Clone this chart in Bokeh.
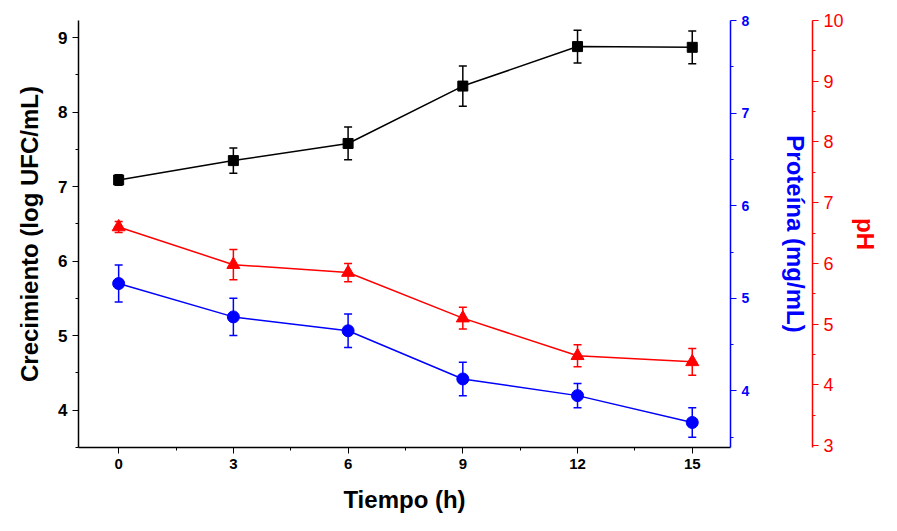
from bokeh.plotting import figure
from bokeh.models import Range1d, LinearAxis, Whisker, ColumnDataSource, FixedTicker, TeeHead
from bokeh.embed import file_html
from bokeh.resources import INLINE

tiempo = [0, 3, 6, 9, 12, 15]
crecimiento = [7.09, 7.35, 7.58, 8.35, 8.88, 8.87]
crecimiento_err = [0.07, 0.17, 0.22, 0.27, 0.22, 0.22]
proteina = [5.16, 4.80, 4.65, 4.13, 3.95, 3.66]
proteina_err = [0.2, 0.2, 0.18, 0.18, 0.13, 0.16]
ph = [6.6, 5.98, 5.85, 5.1, 4.48, 4.38]
ph_err = [0.09, 0.25, 0.15, 0.18, 0.18, 0.22]

FONT = "Liberation Sans"

p = figure(width=881, height=515, output_backend="svg", toolbar_location=None,
           x_range=Range1d(-1.05, 16), y_range=Range1d(3.5, 9.23),
           min_border_left=78, min_border_top=20, min_border_right=10, min_border_bottom=60)
p.extra_y_ranges = {"prot": Range1d(3.39, 8.0), "ph": Range1d(2.97, 10.0)}
p.grid.visible = False
p.outline_line_color = None


def style(ax, color, size="24px"):
    ax.axis_line_color = color
    ax.major_tick_line_color = color
    ax.minor_tick_line_color = color
    ax.major_label_text_color = color
    ax.axis_label_text_color = color
    ax.axis_label_text_font = FONT
    ax.major_label_text_font = FONT
    ax.axis_label_text_font_style = "bold"
    ax.major_label_text_font_style = "bold"
    ax.axis_label_text_font_size = size
    ax.major_label_text_font_size = "17px"
    ax.major_tick_out = 6
    ax.major_tick_in = 0
    ax.minor_tick_out = 3
    ax.minor_tick_in = 0
    ax.axis_line_width = 1.5


p.xaxis.ticker = FixedTicker(ticks=tiempo, minor_ticks=[1.5, 4.5, 7.5, 10.5, 13.5])
p.xaxis.axis_label = "Tiempo (h)"
style(p.xaxis[0], "black")
p.xaxis.major_label_text_font_size = "15px"
p.xaxis.axis_label_standoff = 14
p.yaxis.ticker = FixedTicker(ticks=[4, 5, 6, 7, 8, 9], minor_ticks=[3.5, 4.5, 5.5, 6.5, 7.5, 8.5])
p.yaxis.axis_label = "Crecimiento (log UFC/mL)"
style(p.yaxis[0], "black")
p.yaxis.axis_label_standoff = 12

ax_prot = LinearAxis(y_range_name="prot", axis_label="Proteína (mg/mL)",
                     ticker=FixedTicker(ticks=[4, 5, 6, 7, 8], minor_ticks=[3.5, 4.5, 5.5, 6.5, 7.5]))
style(ax_prot, "blue")
ax_prot.major_label_text_font_size = "14px"
ax_prot.axis_label_standoff = 30
p.add_layout(ax_prot, "right")
ax_ph = LinearAxis(y_range_name="ph", axis_label="pH",
                   ticker=FixedTicker(ticks=list(range(3, 11)), minor_ticks=[3.5 + i for i in range(7)]))
style(ax_ph, "red")
ax_ph.major_label_text_font_size = "18px"
ax_ph.major_label_text_font_style = "normal"
p.add_layout(ax_ph, "right")

series = [
    (crecimiento, crecimiento_err, "black", "square", 10, "default"),
    (proteina, proteina_err, "blue", "circle", 12, "prot"),
    (ph, ph_err, "red", "triangle", 13, "ph"),
]
for vals, err, color, marker, size, rng in series:
    src = ColumnDataSource(dict(x=tiempo, y=vals,
                                lo=[v - e for v, e in zip(vals, err)],
                                hi=[v + e for v, e in zip(vals, err)]))
    p.line("x", "y", source=src, color=color, line_width=1.5, y_range_name=rng)
    w = Whisker(base="x", lower="lo", upper="hi", source=src, line_color=color, line_width=1.5,
                lower_head=TeeHead(size=8, line_color=color, line_width=1.5),
                upper_head=TeeHead(size=8, line_color=color, line_width=1.5))
    w.y_range_name = rng
    p.add_layout(w)
    p.scatter("x", "y", source=src, marker=marker, size=size, color=color, y_range_name=rng)

open("out.html", "w").write(file_html(p, INLINE))
